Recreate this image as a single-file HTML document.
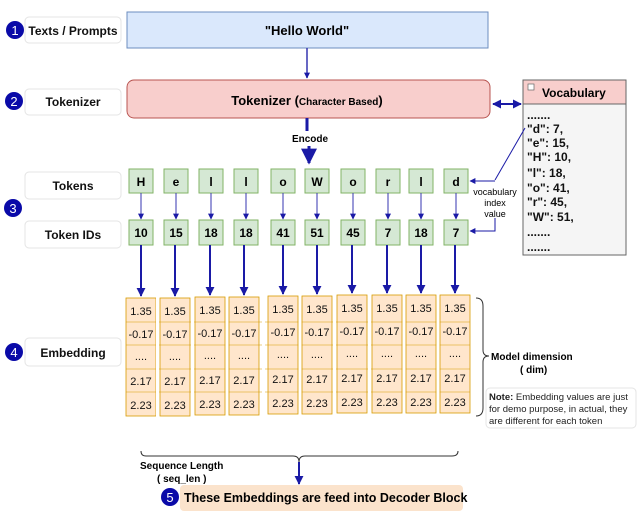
<!DOCTYPE html>
<html><head><meta charset="utf-8"><style>
body{margin:0;background:#fff}
svg{display:block;font-family:"Liberation Sans",Arial,sans-serif}
.b{font-weight:bold}
</style></head><body>
<svg width="643" height="525" viewBox="0 0 643 525" xmlns="http://www.w3.org/2000/svg">
<defs>
<marker id="a" viewBox="0 0 10 10" refX="9" refY="5" markerUnits="userSpaceOnUse" markerWidth="9" markerHeight="9" orient="auto-start-reverse"><path d="M0,0L10,5L0,10z" fill="#1a1aa6"/></marker>
<marker id="s" viewBox="0 0 10 10" refX="9" refY="5" markerUnits="userSpaceOnUse" markerWidth="6" markerHeight="6" orient="auto-start-reverse"><path d="M0,0L10,5L0,10z" fill="#1a1aa6"/></marker>
<marker id="L" viewBox="0 0 10 10" refX="9" refY="5" markerUnits="userSpaceOnUse" markerWidth="16" markerHeight="16" orient="auto"><path d="M0,0L10,5L0,10z" fill="#1a1aa6"/></marker>
</defs>
<g fill="#fff" stroke="#e4e4e4">
<rect x="25" y="17" width="96" height="26" rx="4"/>
<rect x="25" y="89" width="96" height="26" rx="4"/>
<rect x="25" y="172" width="96" height="27" rx="4"/>
<rect x="25" y="221" width="96" height="27" rx="4"/>
<rect x="25" y="338" width="96" height="28" rx="4"/>
</g>
<g class="b" font-size="12" text-anchor="middle" fill="#111">
<text x="73" y="35">Texts / Prompts</text>
<text x="73" y="106">Tokenizer</text>
<text x="73" y="190">Tokens</text>
<text x="73" y="239">Token IDs</text>
<text x="73" y="357">Embedding</text>
</g>
<g fill="#0a0aa8">
<circle cx="15" cy="30" r="9"/><circle cx="14" cy="101" r="9"/><circle cx="13" cy="208" r="9"/><circle cx="14" cy="352" r="9"/>
</g>
<g fill="#fff" font-size="13" text-anchor="middle">
<text x="15" y="35">1</text><text x="14" y="106">2</text><text x="13" y="213">3</text><text x="14" y="357">4</text>
</g>
<rect x="127" y="12" width="361" height="36" fill="#dae8fc" stroke="#6c8ebf"/>
<text x="307" y="35" class="b" font-size="13" text-anchor="middle">"Hello World"</text>
<line x1="307" y1="48" x2="307" y2="78" stroke="#3535b0" stroke-width="1.5" marker-end="url(#s)"/>
<rect x="127" y="80" width="363" height="38" rx="7" fill="#f8cecc" stroke="#b85450"/>
<text x="307" y="105" text-anchor="middle" class="b" font-size="13">Tokenizer (<tspan font-size="10">Character Based</tspan>)</text>
<line x1="493" y1="104" x2="521" y2="104" stroke="#1a1aa6" stroke-width="2" marker-start="url(#a)" marker-end="url(#a)"/>
<line x1="307" y1="118" x2="307" y2="131" stroke="#1a1aa6" stroke-width="3"/>
<text x="310" y="142" class="b" font-size="10" text-anchor="middle">Encode</text>
<line x1="309" y1="146" x2="309" y2="163" stroke="#1a1aa6" stroke-width="3" marker-end="url(#L)"/>
<rect x="523" y="80" width="103" height="175" fill="#f5f5f5" stroke="#666"/>
<rect x="523" y="80" width="103" height="24" fill="#f8cecc" stroke="#666"/>
<rect x="528" y="84" width="6" height="6" fill="#fff" stroke="#666" stroke-width="0.7"/>
<text x="542" y="97" class="b" font-size="12">Vocabulary</text>
<g class="b" font-size="12" fill="#111">
<text x="527" y="119">.......</text>
<text x="527" y="133">"d": 7,</text>
<text x="527" y="147">"e": 15,</text>
<text x="527" y="161">"H": 10,</text>
<text x="527" y="177">"l": 18,</text>
<text x="527" y="192">"o": 41,</text>
<text x="527" y="206">"r": 45,</text>
<text x="527" y="221">"W": 51,</text>
<text x="527" y="236">.......</text>
<text x="527" y="251">.......</text>
</g>
<path d="M525,128 L495,180" stroke="#1a1aa6" fill="none"/>
<line x1="495" y1="181" x2="470" y2="181" stroke="#1a1aa6" marker-end="url(#s)"/>
<path d="M495,218 L495,231 L470,231" stroke="#1a1aa6" fill="none" marker-end="url(#s)"/>
<g font-size="9" text-anchor="middle"><text x="495" y="195">vocabulary</text><text x="495" y="206">index</text><text x="495" y="217">value</text></g>
<g fill="#d5e8d4" stroke="#82b366">
<rect x="129" y="169" width="24" height="24"/><rect x="164" y="169" width="24" height="24"/><rect x="199" y="169" width="24" height="24"/><rect x="234" y="169" width="24" height="24"/><rect x="271" y="169" width="24" height="24"/><rect x="305" y="169" width="24" height="24"/><rect x="341" y="169" width="24" height="24"/><rect x="376" y="169" width="24" height="24"/><rect x="409" y="169" width="24" height="24"/><rect x="444" y="169" width="24" height="24"/>
<rect x="129" y="220" width="24" height="25"/><rect x="164" y="220" width="24" height="25"/><rect x="199" y="220" width="24" height="25"/><rect x="234" y="220" width="24" height="25"/><rect x="271" y="220" width="24" height="25"/><rect x="305" y="220" width="24" height="25"/><rect x="341" y="220" width="24" height="25"/><rect x="376" y="220" width="24" height="25"/><rect x="409" y="220" width="24" height="25"/><rect x="444" y="220" width="24" height="25"/>
</g>
<g class="b" font-size="12" text-anchor="middle">
<text x="141" y="186">H</text><text x="176" y="186">e</text><text x="211" y="186">l</text><text x="246" y="186">l</text><text x="283" y="186">o</text><text x="317" y="186">W</text><text x="353" y="186">o</text><text x="388" y="186">r</text><text x="421" y="186">l</text><text x="456" y="186">d</text>
<text x="141" y="237">10</text><text x="176" y="237">15</text><text x="211" y="237">18</text><text x="246" y="237">18</text><text x="283" y="237">41</text><text x="317" y="237">51</text><text x="353" y="237">45</text><text x="388" y="237">7</text><text x="421" y="237">18</text><text x="456" y="237">7</text>
</g>
<g stroke="#3535b0" marker-end="url(#s)">
<line x1="141" y1="193" x2="141" y2="219"/><line x1="176" y1="193" x2="176" y2="219"/><line x1="211" y1="193" x2="211" y2="219"/><line x1="246" y1="193" x2="246" y2="219"/><line x1="283" y1="193" x2="283" y2="219"/><line x1="317" y1="193" x2="317" y2="219"/><line x1="353" y1="193" x2="353" y2="219"/><line x1="388" y1="193" x2="388" y2="219"/><line x1="421" y1="193" x2="421" y2="219"/><line x1="456" y1="193" x2="456" y2="219"/>
</g>
<g stroke="#1a1aa6" stroke-width="2" marker-end="url(#a)">
<line x1="141" y1="245" x2="141" y2="296"/><line x1="175" y1="245" x2="175" y2="296"/><line x1="210" y1="245" x2="210" y2="295"/><line x1="244" y1="245" x2="244" y2="295"/><line x1="283" y1="245" x2="283" y2="294"/><line x1="317" y1="245" x2="317" y2="294"/><line x1="352" y1="245" x2="352" y2="293"/><line x1="387" y1="245" x2="387" y2="293"/><line x1="421" y1="245" x2="421" y2="293"/><line x1="455" y1="245" x2="455" y2="293"/>
</g>
<g fill="#ffe6cc" stroke="#d79b00" stroke-width="0.8">
<rect x="126" y="298" width="30" height="118"/><rect x="160" y="298" width="30" height="118"/><rect x="195" y="297" width="30" height="118"/><rect x="229" y="297" width="30" height="118"/><rect x="268" y="296" width="30" height="118"/><rect x="302" y="296" width="30" height="118"/><rect x="337" y="295" width="30" height="118"/><rect x="372" y="295" width="30" height="118"/><rect x="406" y="295" width="30" height="118"/><rect x="440" y="295" width="30" height="118"/>
</g>
<g stroke="#d79b00" stroke-width="0.6">
<line x1="126" y1="322" x2="470" y2="322"/><line x1="126" y1="345" x2="470" y2="345"/><line x1="126" y1="369" x2="470" y2="369"/><line x1="126" y1="392" x2="470" y2="392"/>
</g>
<g stroke="#fff" stroke-width="3">
<line x1="157.5" y1="290" x2="157.5" y2="420"/><line x1="192.5" y1="290" x2="192.5" y2="420"/><line x1="227" y1="290" x2="227" y2="420"/><line x1="263.5" y1="290" x2="263.5" y2="420"/><line x1="300" y1="290" x2="300" y2="420"/><line x1="334.5" y1="290" x2="334.5" y2="420"/><line x1="369.5" y1="290" x2="369.5" y2="420"/><line x1="404" y1="290" x2="404" y2="420"/><line x1="438" y1="290" x2="438" y2="420"/>
</g>
<g font-size="11" text-anchor="middle" fill="#111">
<g><text x="141" y="315">1.35</text><text x="141" y="338">-0.17</text><text x="141" y="360">....</text><text x="141" y="385">2.17</text><text x="141" y="409">2.23</text></g>
<g><text x="175" y="315">1.35</text><text x="175" y="338">-0.17</text><text x="175" y="360">....</text><text x="175" y="385">2.17</text><text x="175" y="409">2.23</text></g>
<g><text x="210" y="314">1.35</text><text x="210" y="337">-0.17</text><text x="210" y="359">....</text><text x="210" y="384">2.17</text><text x="210" y="408">2.23</text></g>
<g><text x="244" y="314">1.35</text><text x="244" y="337">-0.17</text><text x="244" y="359">....</text><text x="244" y="384">2.17</text><text x="244" y="408">2.23</text></g>
<g><text x="283" y="313">1.35</text><text x="283" y="336">-0.17</text><text x="283" y="358">....</text><text x="283" y="383">2.17</text><text x="283" y="407">2.23</text></g>
<g><text x="317" y="313">1.35</text><text x="317" y="336">-0.17</text><text x="317" y="358">....</text><text x="317" y="383">2.17</text><text x="317" y="407">2.23</text></g>
<g><text x="352" y="312">1.35</text><text x="352" y="335">-0.17</text><text x="352" y="357">....</text><text x="352" y="382">2.17</text><text x="352" y="406">2.23</text></g>
<g><text x="387" y="312">1.35</text><text x="387" y="335">-0.17</text><text x="387" y="357">....</text><text x="387" y="382">2.17</text><text x="387" y="406">2.23</text></g>
<g><text x="421" y="312">1.35</text><text x="421" y="335">-0.17</text><text x="421" y="357">....</text><text x="421" y="382">2.17</text><text x="421" y="406">2.23</text></g>
<g><text x="455" y="312">1.35</text><text x="455" y="335">-0.17</text><text x="455" y="357">....</text><text x="455" y="382">2.17</text><text x="455" y="406">2.23</text></g>
</g>
<path d="M476,298 Q483,298 483,306 L483,350 Q483,356 489,356 Q483,356 483,362 L483,408 Q483,416 476,416" fill="none" stroke="#333"/>
<g class="b" font-size="10"><text x="491" y="360">Model dimension</text><text x="520" y="373">( dim)</text></g>
<rect x="486" y="388" width="150" height="40" rx="4" fill="#fff" stroke="#e4e4e4"/>
<g font-size="9.5" fill="#222"><text x="489" y="400"><tspan class="b">Note:</tspan> Embedding values are just</text><text x="489" y="412">for demo purpose, in actual, they</text><text x="489" y="424">are different for each token</text></g>
<path d="M141,451 Q141,456 146,456 L293,456 Q299,456 299,462 Q299,456 305,456 L452,456 Q458,456 458,451" fill="none" stroke="#333"/>
<g class="b" font-size="10"><text x="140" y="469">Sequence Length</text><text x="157" y="482">( seq_len )</text></g>
<line x1="299" y1="462" x2="299" y2="484" stroke="#1a1aa6" stroke-width="2" marker-end="url(#a)"/>
<rect x="180" y="485" width="283" height="26" rx="4" fill="#fbe3cc"/>
<circle cx="170" cy="497" r="9" fill="#0a0aa8"/><text x="170" y="502" fill="#fff" font-size="13" text-anchor="middle">5</text>
<text x="184" y="502" class="b" font-size="12.5">These Embeddings are feed into Decoder Block</text>
</svg>
</body></html>
